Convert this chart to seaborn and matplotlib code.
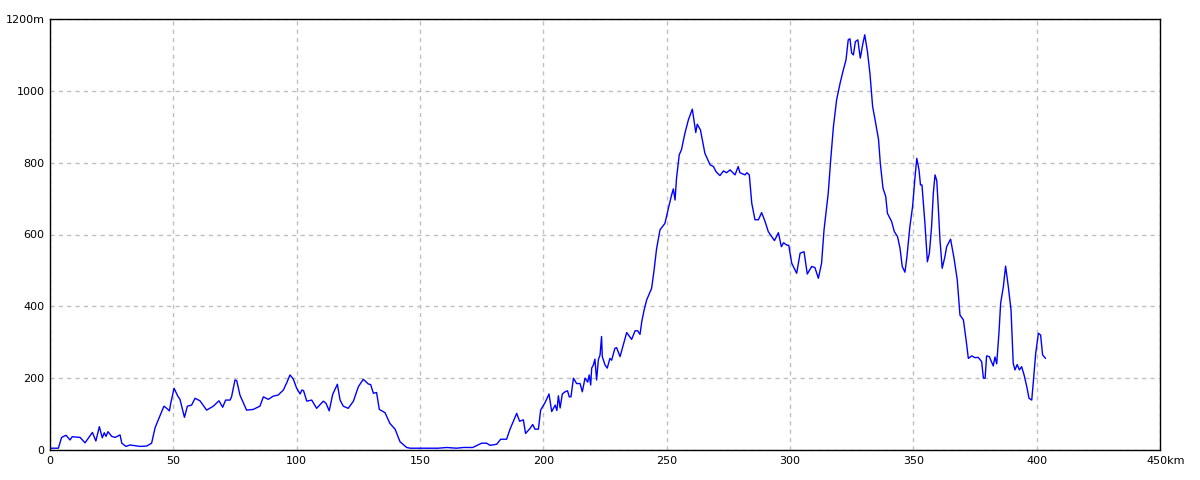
import matplotlib
matplotlib.use("Agg")
import matplotlib.pyplot as plt
import matplotlib.transforms as mtransforms
import seaborn as sns
import pandas as pd

km = [0, 3.4, 4.7, 6.5, 8.1, 9, 12.2, 14.2, 17.2, 18.6, 20, 21.2, 22, 22.7, 23.5, 25, 26.4, 28.4, 29.1,
      30.8, 32.4, 34.5, 36.5, 39.2, 41.2, 42.6, 43.9, 46.2, 47.3, 48.4, 49, 50.3, 51.8, 52.7, 54.5, 55.7,
      57.4, 58.8, 60.8, 63.5, 66.2, 68.5, 70, 71.2, 73, 73.6, 75, 75.7, 77, 79.7, 82.4, 85.1, 86.5, 88.5,
      90.5, 92.5, 94.6, 95.9, 97.3, 98.6, 100, 101.4, 102.1, 102.8, 104.1, 106.1, 108.1, 110.8, 111.9,
      113.2, 114.6, 116.5, 117.6, 118.9, 120.9, 123, 125, 127, 129, 130, 131.1, 132.4, 133.5, 135.8,
      137.8, 139.9, 141.9, 144.6, 146, 157.4, 160.8, 164.8, 167.6, 171.4, 175, 177, 178.4, 181.1, 182.7,
      185.1, 186.5, 189.2, 190.4, 191.9, 192.8, 194.6, 195.7, 196.6, 198, 198.9, 200.7, 202.3, 203.4,
      204.8, 205.5, 206.1, 206.8, 207.7, 208.8, 209.8, 210.5, 211.2, 212.2, 213.5, 214.9, 215.8, 216.9,
      218, 218.6, 219.2, 219.6, 220.3, 220.9, 221.6, 222.3, 223, 223.6, 223.9, 225, 225.9, 227, 227.7,
      229, 229.7, 231.1, 232.4, 233.8, 235.8, 237.2, 238.2, 239.2, 239.9, 240.8, 241.9, 243.9, 244.9,
      245.9, 247.3, 249.3, 250.7, 252, 252.7, 253.4, 254, 255.1, 256, 257.4, 258.8, 260.4, 261.8, 262.4,
      263.7, 265.5, 267.6, 269, 270, 271.6, 273, 274.3, 275.7, 277.7, 279, 279.7, 281.8, 282.5, 283.5,
      284.5, 285.8, 287.2, 288.5, 289.9, 291.2, 292.6, 293.7, 295.3, 296.5, 297.4, 298.8, 299.5, 300.7,
      302.7, 304.1, 305.7, 307, 308.8, 310.1, 311.5, 312.8, 313.8, 315.5, 316.5, 317.6, 318.9, 320.3,
      321.6, 322.7, 323.6, 324.3, 325, 325.7, 326.5, 327.5, 328.5, 329.5, 330.3, 331.4, 332.4, 333.5,
      334.5, 335.9, 336.6, 337.7, 338.8, 339.5, 341.2, 342.3, 343.6, 344.6, 345.5, 346.6, 347.4, 348.6,
      349.7, 350.7, 351.4, 352.3, 352.9, 353.5, 354.7, 355.7, 356.5, 357.4, 358.1, 358.8, 359.5, 360.1,
      360.8, 361.7, 362.8, 363.5, 365.1, 366.5, 367.8, 368.9, 370.3, 371.4, 372.3, 373.7, 375, 376.3,
      377.7, 378.4, 379.1, 379.7, 380.8, 382.4, 383.1, 383.8, 384.7, 385.4, 386.5, 387.4, 388.5, 389.6,
      390.5, 391.2, 392.1, 393, 393.9, 394.9, 396, 396.9, 398, 398.6, 399.6, 400.7, 401.6, 402.4, 403.6]

elev = [5, 5, 35, 41, 28, 37, 35, 20, 49, 25, 65, 34, 48, 38, 51, 38, 35, 42, 19,
        10, 14, 12, 10, 11, 19, 62, 84, 122, 116, 109, 132, 172, 150, 141, 91, 122,
        125, 144, 137, 111, 122, 137, 119, 139, 139, 148, 195, 193, 153, 111, 113, 122, 148, 141,
        150, 153, 167, 186, 209, 198, 172, 156, 167, 165, 136, 139, 116, 136, 130,
        109, 155, 183, 139, 122, 116, 136, 176, 197, 184, 182, 158, 160, 113, 104,
        74, 58, 23, 7, 5, 5, 7, 5, 7, 7, 19, 19, 13, 16, 30,
        30, 58, 102, 80, 84, 46, 60, 71, 58, 58, 111, 132, 156, 107,
        125, 110, 151, 117, 156, 162, 165, 148, 148, 200, 185, 185, 162, 200,
        189, 209, 181, 228, 237, 253, 195, 251, 265, 316, 260, 237, 228, 255, 250,
        283, 285, 260, 292, 327, 308, 332, 332, 322, 357, 388, 418, 450, 501,
        560, 613, 631, 673, 710, 727, 696, 757, 822, 836, 882, 919, 949, 884, 907,
        891, 826, 794, 789, 775, 764, 777, 772, 780, 766, 789, 772, 766, 772, 766,
        687, 641, 641, 661, 636, 608, 594, 583, 605, 566, 577, 570, 570, 520,
        492, 548, 552, 490, 511, 508, 478, 520, 613, 715, 808, 900, 975, 1021,
        1058, 1086, 1142, 1145, 1105, 1100, 1137, 1142, 1091, 1130, 1156, 1109, 1049, 956,
        919, 864, 799, 729, 706, 659, 636, 608, 594, 562, 511, 495, 538, 622,
        678, 761, 812, 780, 738, 738, 631, 524, 548, 622, 715, 766, 750, 678,
        585, 506, 538, 566, 587, 534, 474, 376, 362, 306, 255, 262, 257, 258,
        246, 200, 200, 262, 260, 234, 259, 240, 325, 409, 455, 512, 455, 390,
        241, 223, 238, 223, 232, 209, 176, 144, 139, 186, 269, 325, 320, 265, 255]

x_ticks = [0, 50, 100, 150, 200, 250, 300, 350, 400, 450]
x_labels = ["0", "50", "100", "150", "200", "250", "300", "350", "400", "450km"]
y_ticks = [0, 200, 400, 600, 800, 1000, 1200]
y_labels = ["0", "200", "400", "600", "800", "1000", "1200m"]

sns.set_style("white")
plt.rcParams['font.family'] = ['DejaVu Sans']

df = pd.DataFrame({"km": km, "elev": elev})

fig = plt.figure(figsize=(12, 4.8), dpi=100)
ax = fig.add_axes([50 / 1200, 30 / 480, 1110 / 1200, 431 / 480])

sns.lineplot(data=df, x="km", y="elev", ax=ax, color="#0000ff", linewidth=1.0,
             estimator=None, sort=False)

ax.set_xlim(0, 450)
ax.set_ylim(0, 1200)
ax.set_xticks(x_ticks)
ax.set_xticklabels(x_labels, fontsize=8)
ax.set_yticks(y_ticks)
ax.set_yticklabels(y_labels, fontsize=8)
ax.set_xlabel("")
ax.set_ylabel("")
ax.tick_params(axis="both", length=0, pad=4, colors="black")

ax.grid(True, color="#c0c0c0", linestyle=(0, (3, 3)), linewidth=1.0)
ax.set_axisbelow(True)
for s in ax.spines.values():
    s.set_visible(True)
    s.set_color("black")
    s.set_linewidth(1.0)

# shift the "450km" label so the number sits on its tick
lbl = ax.get_xticklabels()[-1]
lbl.set_transform(lbl.get_transform() + mtransforms.ScaledTranslation(0.06, 0, fig.dpi_scale_trans))

fig.savefig("out.png", dpi=100)
